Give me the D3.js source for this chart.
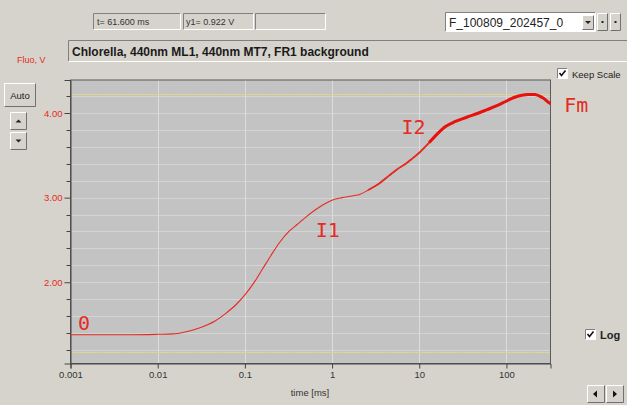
<!DOCTYPE html>
<html><head><meta charset="utf-8">
<script src="https://cdn.jsdelivr.net/npm/d3@7"></script>
<style>
html,body{margin:0;padding:0;background:#d6d3cc;}
svg{display:block;font-family:"Liberation Sans","DejaVu Sans",sans-serif;}
</style></head>
<body>
<svg id="c" width="627" height="405"></svg>
<script>
// ---- data ----
const timeMs = [0.001,0.002,0.005,0.01,0.015,0.02,0.03,0.045,0.06,0.08,0.1,0.13,0.16,0.2,0.25,0.32,0.4,0.5,0.65,0.8,1.0,1.3,1.7,2.1,2.6,3.5,4.5,5.5,7,8.5,10,13,16,20,26,35,48,60,75,95,120,150,180,210,240,270,300,320];
const fluoV  = [1.38,1.38,1.38,1.385,1.39,1.41,1.46,1.54,1.63,1.74,1.85,2.01,2.16,2.32,2.47,2.60,2.685,2.77,2.86,2.92,2.97,3.0,3.02,3.04,3.09,3.17,3.26,3.33,3.40,3.47,3.53,3.65,3.75,3.84,3.90,3.95,4.00,4.04,4.08,4.13,4.18,4.21,4.22,4.22,4.20,4.17,4.13,4.11];
const xTickValues = [0.001,0.01,0.1,1,10,100];
const xTickLabels = ["0.001","0.01","0.1","1","10","100"];
const yMajorTicks = [2,3,4];
const yTickLabels = ["2.00","3.00","4.00"];
const yMinorTicks = [1.2,1.4,1.6,1.8,2.2,2.4,2.6,2.8,3.2,3.4,3.6,3.8,4.2];
const refLines = [4.23,1.18];
const phaseLabels = ["0","I1","I2","Fm"];
const phaseTimes = [0.00122,0.649,6.27,461];
const phaseValues = [1.436,2.535,3.752,4.012];

const svg = d3.select("#c");
const L=70.5, R=550.5, T=80, B=363.5;
const x = d3.scaleLog().domain([0.001,320]).range([L,R]);
const y = d3.scaleLinear().domain([1.04,4.39]).range([B,T]);
const red = "#e52b23";

function sunken(x0,y0,w,h,fill){
  svg.append("rect").attr("x",x0).attr("y",y0).attr("width",w).attr("height",h).attr("fill",fill||"#d6d3cc");
  svg.append("path").attr("d",`M${x0},${y0+h}V${y0}H${x0+w}`).attr("fill","none").attr("stroke","#808080");
  svg.append("path").attr("d",`M${x0+w},${y0}V${y0+h}H${x0}`).attr("fill","none").attr("stroke","#ffffff");
}
function raised(x0,y0,w,h){
  svg.append("rect").attr("x",x0).attr("y",y0).attr("width",w).attr("height",h).attr("fill","#d6d3cc");
  svg.append("path").attr("d",`M${x0},${y0+h}V${y0}H${x0+w}`).attr("fill","none").attr("stroke","#ffffff");
  svg.append("path").attr("d",`M${x0+w},${y0}V${y0+h}H${x0}`).attr("fill","none").attr("stroke","#707070");
}

sunken(93.5,13.5,87,16);
svg.append("text").attr("x",97).attr("y",25).attr("font-size",9).attr("fill","#333").text("t= 61.600 ms");
sunken(183.5,13.5,70,16);
svg.append("text").attr("x",186).attr("y",25).attr("font-size",9).attr("fill","#333").text("y1= 0.922 V");
sunken(255.5,13.5,70,16);

sunken(445.5,12.5,150,19,"#ffffff");
svg.append("text").attr("x",449).attr("y",27).attr("font-size",12).attr("fill","#222").text("F_100809_202457_0");
raised(582.5,15.5,11,14);
svg.append("path").attr("d","M585,21h6l-3,3z").attr("fill","#222");
raised(597.5,13.5,10,17);
svg.append("rect").attr("x",601.5).attr("y",21).attr("width",2).attr("height",2).attr("fill","#222");
raised(610.5,13.5,10,17);
svg.append("rect").attr("x",614.5).attr("y",21).attr("width",2).attr("height",2).attr("fill","#222");

sunken(68.5,40.5,562,21);
svg.append("text").attr("x",72).attr("y",56).attr("font-size",12).attr("font-weight","bold").attr("fill","#1a1a1a")
  .text("Chlorella, 440nm ML1, 440nm MT7, FR1 background");

svg.append("text").attr("x",17).attr("y",63).attr("font-size",9).attr("fill",red).text("Fluo, V");

raised(4.5,83.5,31,23);
svg.append("text").attr("x",20).attr("y",99).attr("font-size",9.5).attr("text-anchor","middle").attr("fill","#222").text("Auto");
raised(10.5,112.5,16,17);
svg.append("path").attr("d","M15.5,122.5h6l-3,-3z").attr("fill","#222");
raised(10.5,132.5,16,17);
svg.append("path").attr("d","M15.5,139.5h6l-3,3z").attr("fill","#222");

function checkbox(cx,cy,label,size,bold){
  sunken(cx+0.5,cy+0.5,10,10,"#ffffff");
  svg.append("path").attr("d",`M${cx+2.5},${cy+5}l2,2.5l4,-5`).attr("fill","none").attr("stroke","#111").attr("stroke-width",1.6);
  svg.append("text").attr("x",cx+15).attr("y",cy+9.5).attr("font-size",size).attr("font-weight",bold?"bold":"normal").attr("fill","#222").text(label);
}
checkbox(557,68,"Keep Scale",9.5,false);
checkbox(585,329,"Log",11,true);

raised(587.5,385.5,17,17);
svg.append("path").attr("d","M593,394l4,-3.5v7z").attr("fill","#111");
raised(606.5,385.5,17,17);
svg.append("path").attr("d","M617,394l-4,-3.5v7z").attr("fill","#111");

svg.append("rect").attr("x",L).attr("y",T).attr("width",R-L).attr("height",B-T).attr("fill","#c3c3c3");

const g = svg.append("g");
g.selectAll("line.hg").data(yMinorTicks.concat(yMajorTicks)).enter().append("line")
  .attr("x1",L).attr("x2",R).attr("y1",d=>Math.round(y(d))+0.5).attr("y2",d=>Math.round(y(d))+0.5)
  .attr("stroke","#d4d4d4").attr("stroke-width",1);
g.selectAll("line.vg").data(xTickValues.slice(1)).enter().append("line")
  .attr("y1",T).attr("y2",B).attr("x1",d=>Math.round(x(d))+0.5).attr("x2",d=>Math.round(x(d))+0.5)
  .attr("stroke","#dcdcdc").attr("stroke-width",1);

g.selectAll("line.ref").data(refLines).enter().append("line")
  .attr("x1",L).attr("x2",R).attr("y1",d=>Math.round(y(d))+0.5).attr("y2",d=>Math.round(y(d))+0.5)
  .attr("stroke","#ebe06a").attr("stroke-width",1).attr("stroke-dasharray","2,1");

svg.append("rect").attr("x",L).attr("y",T).attr("width",R-L).attr("height",B-T).attr("fill","none").attr("stroke","#5a5a5a");

const xAxis = d3.axisBottom(x).tickValues(xTickValues).tickFormat((d,i)=>xTickLabels[i]).tickSize(5).tickPadding(3);
const ax = svg.append("g").attr("transform",`translate(0,${B})`).call(xAxis);
ax.select(".domain").attr("stroke","#444");
ax.selectAll(".tick line").attr("stroke","#444");
ax.selectAll("text").attr("font-size",9.5).attr("fill","#333").attr("font-family","Liberation Sans, sans-serif");

const yAxis = d3.axisLeft(y).tickValues(yMajorTicks).tickFormat((d,i)=>yTickLabels[i]).tickSize(6).tickPadding(2);
const ay = svg.append("g").attr("transform",`translate(${L},0)`).call(yAxis);
ay.select(".domain").attr("stroke","#444");
ay.selectAll(".tick line").attr("stroke","#444");
ay.selectAll("text").attr("font-size",9.5).attr("fill",red).attr("font-family","Liberation Sans, sans-serif");
svg.append("g").selectAll("line").data(yMinorTicks).enter().append("line")
  .attr("x1",L-4).attr("x2",L).attr("y1",d=>Math.round(y(d))+0.5).attr("y2",d=>Math.round(y(d))+0.5).attr("stroke","#444");

svg.append("text").attr("x",310).attr("y",396).attr("text-anchor","middle").attr("font-size",9.5).attr("fill","#333").text("time [ms]");

const pts = timeMs.map((t,i)=>({t, v: fluoV[i]}));
const line = d3.line().x(d=>x(d.t)).y(d=>y(d.v)).curve(d3.curveMonotoneX);
svg.append("path").datum(pts).attr("d",line).attr("fill","none").attr("stroke",red).attr("stroke-width",1.1);
svg.append("path").datum(pts.filter(d=>d.t>=2.6)).attr("d",line).attr("fill","none").attr("stroke",red).attr("stroke-width",1.8);
svg.append("path").datum(pts.filter(d=>d.t>=13)).attr("d",line).attr("fill","none").attr("stroke","#e8120c").attr("stroke-width",3);

svg.append("g").selectAll("text").data(phaseLabels).enter().append("text")
  .attr("x",(d,i)=>x(phaseTimes[i])).attr("y",(d,i)=>y(phaseValues[i]))
  .attr("font-family","DejaVu Sans Mono, Liberation Mono, monospace").attr("font-size",20)
  .attr("fill",red).text(d=>d);
</script>
</body></html>
